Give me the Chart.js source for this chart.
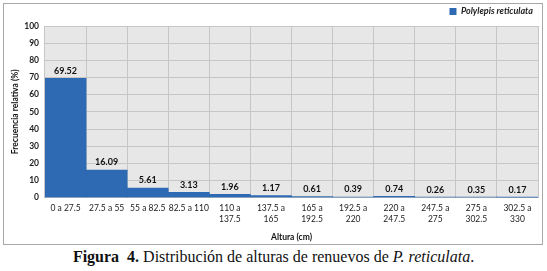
<!DOCTYPE html>
<html>
<head>
<meta charset="utf-8">
<script src="https://cdn.jsdelivr.net/npm/chart.js@4.4.0/dist/chart.umd.min.js"></script>
<style>
  body { margin: 0; background: #fff; }
  #frame { position: absolute; left: 3px; top: 3px; width: 538px; height: 240px; border: 1px solid #a8a8a8; }
  #wrap { position: absolute; left: 0; top: 0; width: 547px; height: 246px; }
  #caption { position: absolute; left: 0; top: 248px; width: 547px; text-align: center;
    font-family: "Liberation Serif", "DejaVu Serif", serif; font-size: 16px; color: #111; }
  #caption b { font-weight: bold; }
</style>
</head>
<body>
<div id="frame"></div>
<div id="wrap"><canvas id="barChart"></canvas></div>
<div id="caption"><b>Figura&nbsp; 4.</b> Distribución de alturas de renuevos de <i>P. reticulata</i>.</div>
<script>
var categorias = ['0 a 27.5', '27.5 a 55', '55 a 82.5', '82.5 a 110', '110 a 137.5', '137.5 a 165',
  '165 a 192.5', '192.5 a 220', '220 a 247.5', '247.5 a 275', '275 a 302.5', '302.5 a 330'];
var frecuencia = [69.52, 16.09, 5.61, 3.13, 1.96, 1.17, 0.61, 0.39, 0.74, 0.26, 0.35, 0.17];
var serie = 'Polylepis reticulata';

// fondo gris del area de trazado
var fondoPlot = {
  id: 'fondoPlot',
  beforeDraw: function (chart) {
    var a = chart.chartArea, ctx = chart.ctx;
    ctx.save();
    ctx.fillStyle = '#e7e7e7';
    ctx.fillRect(a.left, a.top, a.right - a.left, a.bottom - a.top);
    ctx.restore();
  }
};

// etiquetas de valor encima de cada barra
var etiquetas = {
  id: 'etiquetas',
  afterDatasetsDraw: function (chart) {
    var ctx = chart.ctx;
    var meta = chart.getDatasetMeta(0);
    ctx.save();
    ctx.font = 'bold 9px Lato, "Open Sans", sans-serif';
    ctx.fillStyle = '#111';
    ctx.textAlign = 'center';
    ctx.textBaseline = 'bottom';
    meta.data.forEach(function (bar, i) {
      ctx.fillText(frecuencia[i].toFixed(2), bar.x, bar.y - 3);
    });
    ctx.restore();
  }
};

var ctx = document.getElementById('barChart').getContext('2d');
var chart = new Chart(ctx, {
  type: 'bar',
  data: {
    labels: categorias,
    datasets: [{
      label: serie,
      data: frecuencia,
      backgroundColor: '#2e6ab3',
      borderWidth: 0,
      barPercentage: 1,
      categoryPercentage: 1
    }]
  },
  options: {
    responsive: true,
    maintainAspectRatio: false,
    animation: false,
    layout: { padding: { left: 0, right: 9, top: 2, bottom: 0 } },
    plugins: {
      tooltip: { enabled: false },
      legend: {
        position: 'top',
        align: 'end',
        labels: {
          boxWidth: 7,
          boxHeight: 7,
          padding: 5,
          color: '#222',
          font: { family: 'Lato, "Open Sans", sans-serif', size: 9, style: 'italic', weight: 'bold' }
        }
      }
    },
    scales: {
      x: {
        grid: { color: '#c6c6c6', drawTicks: false, offset: true },
        border: { display: false },
        ticks: {
          color: '#222',
          maxRotation: 0,
          autoSkip: false,
          padding: 5,
          font: { family: 'Lato, "Open Sans", sans-serif', size: 8.5, lineHeight: 1.3 },
          callback: function (v, i) {
            var t = categorias[i];
            if (t.length > 10) {
              var p = t.split(' a ');
              return [p[0] + ' a', p[1]];
            }
            return t;
          }
        },
        title: {
          display: true,
          text: 'Altura (cm)',
          color: '#111',
          padding: { top: 2, bottom: 4 },
          font: { family: 'Lato, "Open Sans", sans-serif', size: 8.5, weight: 'bold' }
        }
      },
      y: {
        min: 0,
        max: 100,
        ticks: {
          stepSize: 10,
          color: '#222',
          padding: 6,
          font: { family: 'Lato, "Open Sans", sans-serif', size: 8.5, weight: 'bold' }
        },
        grid: { color: '#c6c6c6', drawTicks: false },
        border: { display: false },
        title: {
          display: true,
          text: 'Frecuencia relativa (%)',
          color: '#111',
          padding: { top: 10, bottom: 4 },
          font: { family: 'Lato, "Open Sans", sans-serif', size: 8.5, weight: 'bold' }
        },
        afterFit: function (scale) { scale.width = 45; }
      }
    }
  },
  plugins: [fondoPlot, etiquetas]
});
</script>
</body>
</html>
